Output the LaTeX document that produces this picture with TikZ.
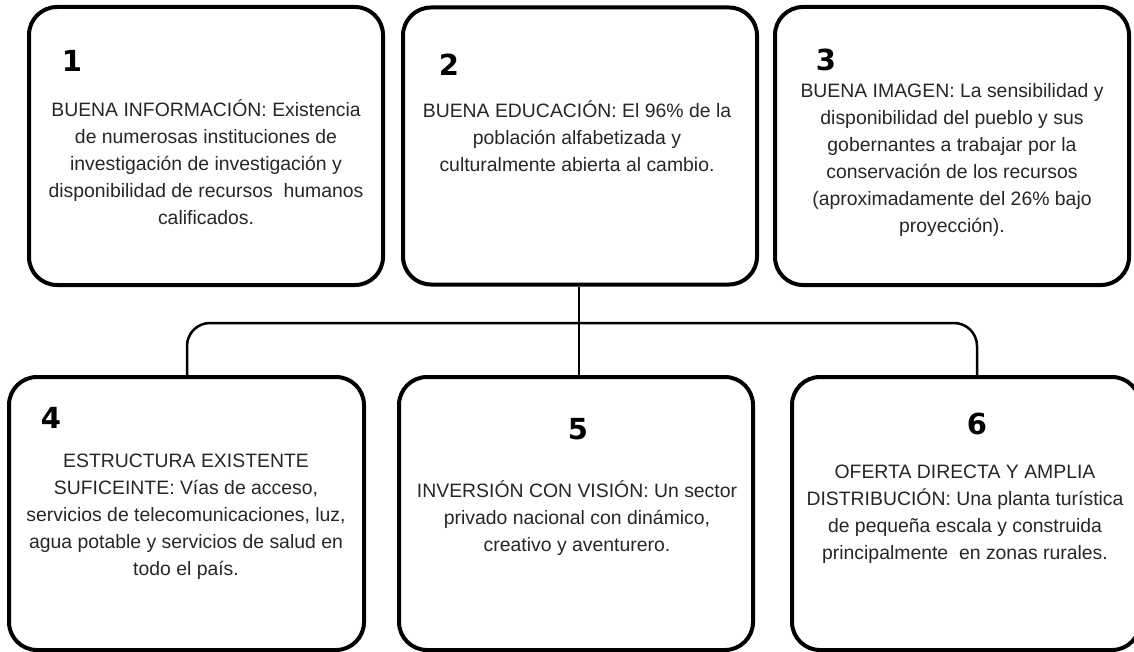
\documentclass[tikz,border=0pt]{standalone}
\usepackage{fontspec}
\setmainfont{Liberation Sans}
\newfontfamily\numfont{DejaVu Sans}
\begin{document}
\begin{tikzpicture}[x=1pt,y=-1pt,
  box/.style={draw=black,line width=4pt,rounded corners=28pt,rectangle,inner sep=0pt},
  txt/.style={align=center,inner sep=0pt,text=black!85,font=\fontsize{19.4}{27}\selectfont},
  num/.style={inner sep=0pt,font=\numfont\bfseries\fontsize{29}{30}\selectfont},
  conn/.style={draw=black,line width=2.5pt,rounded corners=23pt}]
\useasboundingbox (0,0) rectangle (1134,652);
\clip (0,0) rectangle (1134,652);
% top boxes
\node[box,minimum width=354pt,minimum height=278pt] (b1) at (206,146) {};
\node[box,minimum width=354pt,minimum height=277pt] (b2) at (580,146) {};
\node[box,minimum width=354pt,minimum height=278pt] (b3) at (952,146) {};
% bottom boxes
\node[box,minimum width=355pt,minimum height=273pt] (b4) at (186.5,513.5) {};
\node[box,minimum width=354pt,minimum height=273pt] (b5) at (576,513.5) {};
\node[box,minimum width=348pt,minimum height=273pt] (b6) at (966,513.5) {};
% connectors
\coordinate (j4) at (187,323);
\coordinate (j6) at (977,323);
\draw[line width=2.5pt] (b2.south -| 579,0) -- (579,0 |- b5.north);
\draw[conn] (j4 |- b4.north) -- (j4) -- (j6) -- (j6 |- b6.north);
% numbers
\node[num] (n1) at (72,61) {1};
\node[num] (n2) at (449,65) {2};
\node[num] (n3) at (826,60) {3};
\node[num] (n4) at (51,418) {4};
\node[num] (n5) at (578,429) {5};
\node[num] (n6) at (977,424) {6};
% texts
\node[txt] (t1) at (206,162) {BUENA INFORMACIÓN: Existencia\\de numerosas instituciones de\\investigación de investigación y\\disponibilidad de recursos\ \ humanos\\calificados.};
\node[txt] (t2) at (577,136) {BUENA EDUCACIÓN: El 96\% de la\\población alfabetizada y\\culturalmente abierta al cambio.};
\node[txt] (t3) at (952,160) {BUENA IMAGEN: La sensibilidad y\\disponibilidad del pueblo y sus\\gobernantes a trabajar por la\\conservación de los recursos\\(aproximadamente del 26\% bajo\\proyección).};
\node[txt] (t4) at (186,517) {ESTRUCTURA EXISTENTE\\SUFICEINTE: Vías de acceso,\\servicios de telecomunicaciones, luz,\\agua potable y servicios de salud en\\todo el país.};
\node[txt] (t5) at (577,518) {INVERSIÓN CON VISIÓN: Un sector\\privado nacional con dinámico,\\creativo y aventurero.};
\node[txt] (t6) at (965,514) {OFERTA DIRECTA Y AMPLIA\\DISTRIBUCIÓN: Una planta turística\\de pequeña escala y construida\\principalmente\ \ en zonas rurales.};
\end{tikzpicture}
\end{document}
